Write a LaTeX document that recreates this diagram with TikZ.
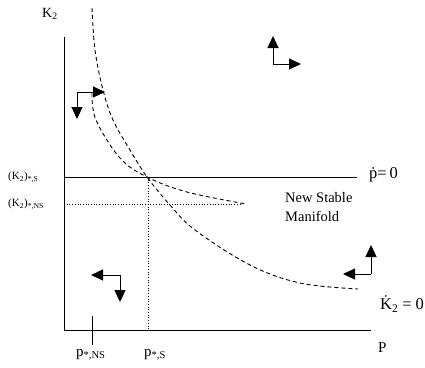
\documentclass[tikz,border=0pt]{standalone}
\usepackage{fontspec}
\setmainfont{Liberation Serif}
\usetikzlibrary{arrows.meta}
\tikzset{
  axis/.style={line width=1pt},
  level/.style={line width=0.9pt},
  guide/.style={line width=0.7pt, dotted},
  curve/.style={line width=0.9pt, dash pattern=on 4pt off 3pt},
  flow/.style={line width=1pt, -{Triangle[length=12pt,width=11pt]}},
  lab/.style={inner sep=0pt, font=\fontsize{14}{16}\selectfont},
  biglab/.style={inner sep=0pt, font=\fontsize{16.5}{18}\selectfont},
  small/.style={inner sep=0pt, font=\fontsize{11}{13}\selectfont},
}
\begin{document}
\begin{tikzpicture}[x=1pt,y=-1pt]
\useasboundingbox (0,0) rectangle (425,367);
% axes
\coordinate (O) at (64,330);
\coordinate (ytop) at (64,37);
\coordinate (xend) at (371,330);
\draw[axis] (ytop) -- (O) -- (xend);
% pdot = 0 line
\coordinate (pl) at (64,177);
\coordinate (pr) at (357,177);
\draw[level] (pl) -- (pr);
% dotted guides
\coordinate (ns1) at (64,204);
\coordinate (ns2) at (240,204);
\draw[guide] (ns1) -- (ns2);
\coordinate (ps1) at (148,177);
\coordinate (ps2) at (148,330);
\draw[guide] (ps1) -- (ps2);
% tick
\coordinate (t1) at (92,316);
\coordinate (t2) at (92,345);
\draw[line width=1pt] (t1) -- (t2);
% curves
\draw[curve] plot[smooth, tension=0.6] coordinates {(92,8) (95,50) (103,90) (113,120) (130,150) (147,177) (170,205) (195,230) (250,265) (300,283) (358,289)};
\draw[curve] plot[smooth, tension=0.6] coordinates {(92,93) (96,120) (120,158) (147,177) (187,192) (246,204)};
% flow arrows
\coordinate (a1) at (77,92);
\coordinate (a1r) at (105,92);
\coordinate (a1d) at (77,119);
\draw[flow] (a1) -- (a1r);
\draw[flow] (a1) -- (a1d);
\coordinate (a2) at (273,64);
\coordinate (a2u) at (273,36);
\coordinate (a2r) at (301,64);
\draw[flow] (a2) -- (a2u);
\draw[flow] (a2) -- (a2r);
\coordinate (a3) at (120,275);
\coordinate (a3l) at (91,275);
\coordinate (a3d) at (120,302);
\draw[flow] (a3) -- (a3l);
\draw[flow] (a3) -- (a3d);
\coordinate (a4) at (371,274);
\coordinate (a4u) at (371,245);
\coordinate (a4l) at (343,274);
\draw[flow] (a4) -- (a4u);
\draw[flow] (a4) -- (a4l);
% labels
\node[lab, anchor=west] (lk) at (42,14) {K\textsubscript{2}};
\node[small, anchor=west] (lks) at (8,177) {(K\textsubscript{2})\textsubscript{*,S}};
\node[small, anchor=west] (lkns) at (8,204) {(K\textsubscript{2})\textsubscript{*,NS}};
\node[lab, anchor=west, font=\fontsize{15}{17}\selectfont] (lpns) at (76,355) {p\textsubscript{*,NS}};
\node[lab, anchor=west, font=\fontsize{15}{17}\selectfont] (lps) at (144,355) {p\textsubscript{*,S}};
\node[biglab, anchor=west] (lpd) at (369,175) {\.{p}=\hspace{3pt}0};
\node[biglab, anchor=west] (lkd) at (380,304) {\.{K}\textsubscript{2}\hspace{4pt}=\hspace{4pt}0};
\node[lab, anchor=west, font=\fontsize{15}{17}\selectfont] (lP) at (378,348) {P};
\node[lab, anchor=west, align=left, font=\fontsize{14.5}{19}\selectfont] (lnsm) at (285,207) {New Stable\\Manifold};
\end{tikzpicture}
\end{document}
